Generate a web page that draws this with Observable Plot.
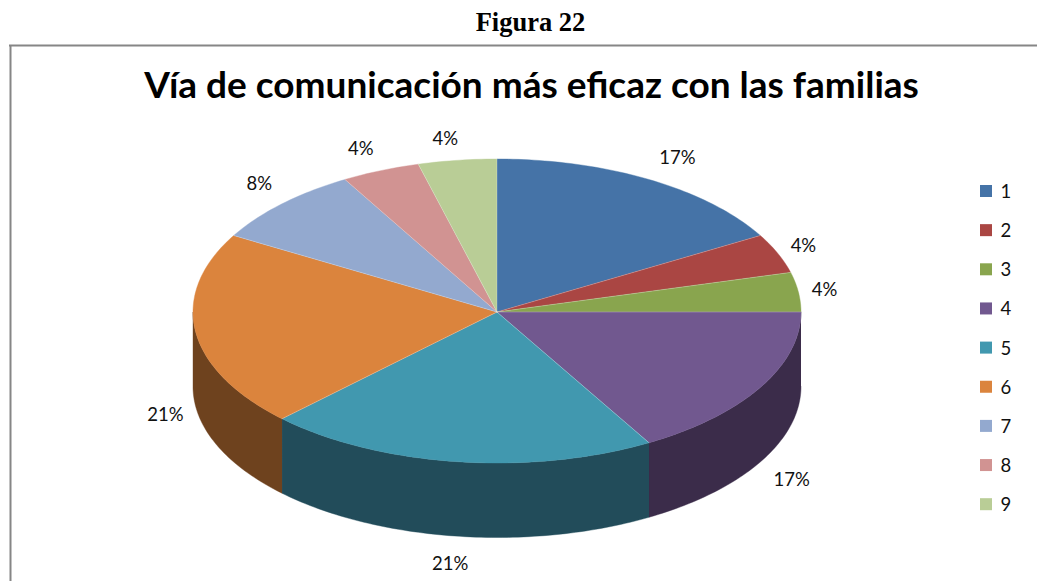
<!DOCTYPE html>
<html>
<head>
<meta charset="utf-8">
<script src="https://cdn.jsdelivr.net/npm/d3@7"></script>
<script src="https://cdn.jsdelivr.net/npm/@observablehq/plot@0.6"></script>
<style>
html,body{margin:0;padding:0;background:#fff;overflow:hidden}
svg{display:block}
</style>
</head>
<body>
<div id="chart"></div>
<script>
const categories = ["1","2","3","4","5","6","7","8","9"];
const counts = [4,1,1,4,5,5,2,1,1];
const topColors = ["#4573A7","#AA4643","#89A54E","#71588F","#4198AF","#DB843D","#93A9CF","#D19392","#B9CD96"];
const sideColors = ["#2A4564","#662A28","#52632F","#3B2C4A","#224C5A","#6E421E","#586579","#7D5857","#6F7B5A"];
const chartTitle = "Vía de comunicación más eficaz con las familias";
const figureTitle = "Figura 22";

// Label nudges away from the slice's mid-angle anchor
const labelShiftX = [1,-25,-28,-16,0,24,16,1,-5];
const labelShiftY = [1,2.5,1.5,5,2.5,5.5,-1.5,2.5,4.5];

const W = 1037, H = 581;
const cx = 496.5, cy = 311.5, rx = 304, ryBack = 153, ryFront = 151, depth = 74.5;
const deg = Math.PI / 180;
const px = a => cx + rx * Math.sin(a * deg);
const py = a => { const c = -Math.cos(a * deg); return cy + c * (c < 0 ? ryBack : ryFront); };

const total = d3.sum(counts);
let acc = 0;
const slices = counts.map((v, i) => {
  const a0 = acc / total * 360; acc += v; const a1 = acc / total * 360;
  return {i, v, a0, a1, mid: (a0 + a1) / 2};
});
const arc = (a0, a1) => d3.range(0, Math.ceil(a1 - a0) + 1).map(k => Math.min(a0 + k, a1));

const topPts = slices.flatMap(s => [
  {k: s.i, c: topColors[s.i], x: cx, y: cy},
  ...arc(s.a0, s.a1).map(a => ({k: s.i, c: topColors[s.i], x: px(a), y: py(a)}))
]);
const sidePts = slices.filter(s => s.a1 > 90 && s.a0 < 270).flatMap(s => {
  const as = arc(Math.max(s.a0, 90), Math.min(s.a1, 270));
  return [
    ...as.map(a => ({k: s.i, c: sideColors[s.i], x: px(a), y: py(a)})),
    ...as.slice().reverse().map(a => ({k: s.i, c: sideColors[s.i], x: px(a), y: py(a) + depth}))
  ];
});
const spokes = slices.flatMap(s => [{k: s.i, x: cx, y: cy}, {k: s.i, x: px(s.a0), y: py(s.a0)}]);

const labels = slices.map(s => {
  const sn = Math.sin(s.mid * deg), cs = -Math.cos(s.mid * deg);
  return {
    t: Math.round(s.v / total * 100) + "%",
    x: cx + rx * 1.18 * sn + labelShiftX[s.i],
    y: cy + (cs < 0 ? ryBack : ryFront) * 1.17 * cs + (cs > 0 ? depth : 0) + labelShiftY[s.i]
  };
});

const legendTop = 191, legendStep = 39.15, swatch = 12;
const legend = categories.map((c, i) => ({c, i, color: topColors[i], y: legendTop + i * legendStep}));

const plot = Plot.plot({
  width: W, height: H, margin: 0,
  x: {type: "linear", domain: [0, W], range: [0, W], axis: null},
  y: {type: "linear", domain: [0, H], range: [0, H], axis: null},
  marks: [
    Plot.ruleX([10], {y1: 45, y2: H, stroke: "#868686", strokeWidth: 2}),
    Plot.ruleY([45], {x1: 9, x2: W, stroke: "#868686", strokeWidth: 2}),
    Plot.line(sidePts, {x: "x", y: "y", z: "k", fill: "c", stroke: "c", strokeWidth: 0.4}),
    Plot.line(topPts, {x: "x", y: "y", z: "k", fill: "c", stroke: "c", strokeWidth: 0.4}),
    Plot.line(spokes, {x: "x", y: "y", z: "k", stroke: "#fff", strokeOpacity: 0.35, strokeWidth: 0.7}),
    Plot.text(labels, {x: "x", y: "y", text: "t", fontFamily: "Lato", fontSize: 18.5, fill: "#111", textAnchor: "middle"}),
    Plot.rect(legend, {x1: 980, x2: 980 + swatch, y1: d => d.y - swatch / 2, y2: d => d.y + swatch / 2, fill: "color"}),
    Plot.text(legend, {x: 1000, y: d => d.y + 0.5, text: "c", fontFamily: "Lato", fontSize: 18.5, fill: "#111", textAnchor: "start"}),
    Plot.text([chartTitle], {x: 531, y: 86, fontFamily: "Lato", fontWeight: "bold", fontSize: 37, fill: "#000", textAnchor: "middle"}),
    Plot.text([figureTitle], {x: 530, y: 22.5, fontFamily: "Liberation Serif", fontWeight: "bold", fontSize: 26.5, fill: "#000", textAnchor: "middle"})
  ]
});
document.getElementById("chart").appendChild(plot);
</script>
</body>
</html>
